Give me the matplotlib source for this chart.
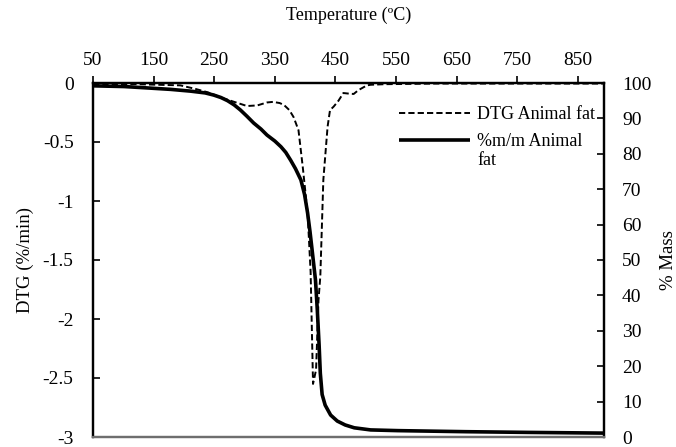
import matplotlib
matplotlib.use("Agg")
import matplotlib.pyplot as plt

# ===============================
# Data
# ===============================
# DTG curve, left axis (%/min)
DTG_TEMP = [50, 122, 194, 219, 240, 265, 289, 304, 321, 337, 347, 358, 365, 374,
            381, 389, 396, 404, 409, 413, 418, 422, 425, 430, 437, 441, 447,
            455, 463, 472, 480, 488, 495, 502, 508, 532, 614, 717, 819, 893]
DTG_VALUES = [-0.01, -0.01, -0.02, -0.05, -0.08, -0.13, -0.17, -0.195, -0.19, -0.165,
              -0.16, -0.17, -0.186, -0.23, -0.29, -0.40, -0.71, -1.10, -1.60, -2.55,
              -2.43, -1.84, -1.64, -0.82, -0.37, -0.23, -0.20, -0.15, -0.085, -0.09,
              -0.093, -0.06, -0.04, -0.02, -0.015, -0.01, -0.005, -0.005, -0.005, -0.005]

# Mass curve, right axis (% mass)
MASS_TEMP = [50, 101, 140, 178, 211, 235, 249, 261, 272, 283, 293, 304, 315, 327,
             337, 350, 360, 368, 376, 384, 393, 399, 404, 408, 412, 417, 420, 423,
             425, 428, 433, 442, 453, 466, 481, 508, 553, 590, 665, 768, 893]
MASS_VALUES = [99.2, 99.0, 98.6, 98.2, 97.7, 97.2, 96.6, 95.9, 95.0, 93.8, 92.4, 90.6,
               88.7, 87.0, 85.3, 83.6, 82.0, 80.4, 78.2, 75.8, 72.6, 68.5, 63.3, 58.0,
               52.0, 44.4, 36.0, 26.0, 18.0, 12.0, 9.0, 6.2, 4.5, 3.4, 2.6, 2.0, 1.8,
               1.7, 1.5, 1.3, 1.1]

X_TICKS = [50, 150, 250, 350, 450, 550, 650, 750, 850]
DTG_TICKS = [0, -0.5, -1, -1.5, -2, -2.5, -3]
MASS_TICKS = list(range(0, 101, 10))

# ===============================
# Style
# ===============================
plt.rcParams['font.family'] = ['Liberation Serif', 'DejaVu Serif']
TICK_FS = 14
LABEL_FS = 13.5
LEGEND_FS = 13

fig = plt.figure(figsize=(6.76, 4.47), dpi=100)
ax = fig.add_axes([93 / 676, 1 - 437 / 447, (604 - 93) / 676, (437 - 83) / 447])
ax2 = ax.twinx()

# DTG (dashed)
dtg_line, = ax.plot(DTG_TEMP, DTG_VALUES, color='black', linestyle=(0, (3.2, 1.6)),
                    linewidth=1.4)
# Mass (thick solid)
mass_line, = ax2.plot(MASS_TEMP, MASS_VALUES, color='black', linewidth=2.6,
                      solid_capstyle='butt')

ax.set_xlim(50, 893)
ax.set_ylim(-3, 0)
ax2.set_ylim(0, 100)

# top x axis
ax.xaxis.tick_top()
ax.xaxis.set_label_position('top')
ax.set_xticks(X_TICKS)
ax.set_xticklabels([str(t) for t in X_TICKS], fontsize=TICK_FS)
ax.tick_params(axis='x', direction='out', length=5, width=1.2, pad=5)
ax.set_xlabel("Temperature (ºC)", fontsize=13, labelpad=23)

ax.set_yticks(DTG_TICKS)
ax.set_yticklabels([f"{t:g}" for t in DTG_TICKS], fontsize=TICK_FS)
ax.tick_params(axis='y', direction='in', length=5, width=1.2, pad=14)
ax.set_ylabel("DTG (%/min)", fontsize=LABEL_FS, labelpad=6)

ax2.set_yticks(MASS_TICKS)
ax2.set_yticklabels([str(t) for t in MASS_TICKS], fontsize=TICK_FS)
ax2.tick_params(axis='y', direction='in', length=5, width=1.2, pad=13)
ax2.set_ylabel("% Mass", fontsize=LABEL_FS, labelpad=6)

for a in (ax, ax2):
    for side in ('left', 'right', 'top'):
        a.spines[side].set_linewidth(1.6)
        a.spines[side].set_color('black')
    a.spines['bottom'].set_linewidth(1.6)
    a.spines['bottom'].set_color('#6e6e6e')

# legend: second label wraps onto a second line ("fat") below its first line
leg = ax2.legend([dtg_line, mass_line], ["DTG Animal fat", "%m/m Animal"],
                 loc='upper left', bbox_to_anchor=(399 / 676, 1 - 106 / 447),
                 bbox_transform=fig.transFigure, frameon=False,
                 handlelength=3.95, handletextpad=0.38, borderpad=0, borderaxespad=0,
                 labelspacing=0.55, prop={'size': LEGEND_FS})

fig.canvas.draw()
bb = leg.get_texts()[1].get_window_extent()
fig.text(bb.x0 / fig.bbox.width, (bb.y0 - 2) / fig.bbox.height, "fat",
         fontsize=LEGEND_FS, ha='left', va='top')

fig.savefig("out.png", dpi=100)
